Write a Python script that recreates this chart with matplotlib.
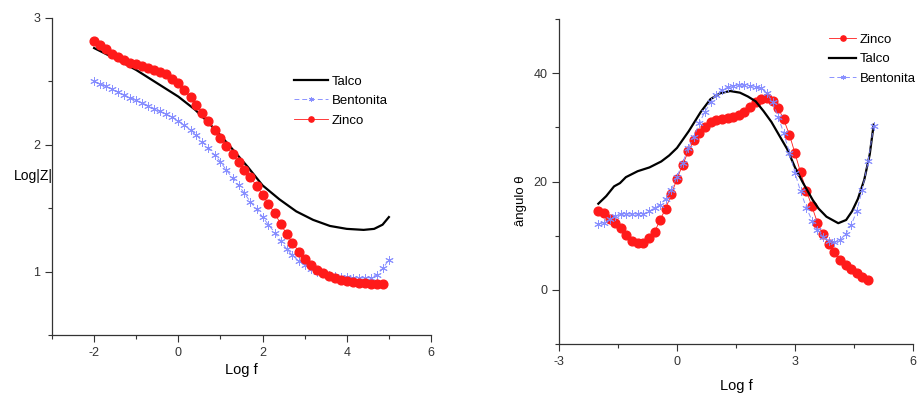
import matplotlib
matplotlib.use("Agg")
import matplotlib.pyplot as plt
from matplotlib.ticker import FixedLocator

plt.rcParams['font.family'] = ['Liberation Sans', 'DejaVu Sans']
plt.rcParams['axes.unicode_minus'] = False

# frequency sweep (Log f), 7 points per decade
log_f = [-2.0, -1.86, -1.71, -1.57, -1.43, -1.29, -1.14, -1.0, -0.86, -0.71,
         -0.57, -0.43, -0.29, -0.14, 0.0, 0.14, 0.29, 0.43, 0.57, 0.71,
         0.86, 1.0, 1.14, 1.29, 1.43, 1.57, 1.71, 1.86, 2.0, 2.14,
         2.29, 2.43, 2.57, 2.71, 2.86, 3.0, 3.14, 3.29, 3.43, 3.57,
         3.71, 3.86, 4.0, 4.14, 4.29, 4.43, 4.57, 4.71, 4.86, 5.0]
log_f_zinco = log_f[:49]

# ---- Left panel: Log|Z| ----
zinco_logz = [2.821, 2.789, 2.755, 2.718, 2.692, 2.666, 2.648, 2.637, 2.618, 2.605,
              2.592, 2.576, 2.558, 2.52, 2.49, 2.43, 2.374, 2.316, 2.25, 2.186,
              2.12, 2.055, 1.99, 1.928, 1.865, 1.804, 1.743, 1.677, 1.605, 1.534,
              1.46, 1.376, 1.297, 1.228, 1.157, 1.1, 1.053, 1.013, 0.987, 0.968,
              0.947, 0.934, 0.926, 0.918, 0.913, 0.908, 0.905, 0.905, 0.905]
bentonita_logz = [2.5, 2.48, 2.46, 2.44, 2.417, 2.395, 2.372, 2.35, 2.33, 2.308,
                  2.285, 2.263, 2.242, 2.218, 2.19, 2.155, 2.118, 2.078, 2.025, 1.972,
                  1.92, 1.867, 1.80, 1.737, 1.68, 1.617, 1.55, 1.493, 1.43, 1.37,
                  1.308, 1.242, 1.18, 1.127, 1.085, 1.05, 1.023, 1.0, 0.987, 0.974,
                  0.966, 0.96, 0.955, 0.952, 0.95, 0.95, 0.953, 0.975, 1.025, 1.095]
talco_logf_left = [-2.0, -1.5, -1.0, -0.5, 0.0, 0.4, 0.7, 1.0, 1.3, 1.65,
                   2.0, 2.4, 2.8, 3.2, 3.6, 4.0, 4.4, 4.65, 4.85, 5.0]
talco_logz = [2.763, 2.68, 2.59, 2.485, 2.38, 2.276, 2.18, 2.075, 1.96, 1.825,
              1.68, 1.57, 1.475, 1.408, 1.36, 1.337, 1.329, 1.337, 1.37, 1.43]

# ---- Right panel: phase angle ----
zinco_theta = [14.6, 14.2, 13.0, 12.3, 11.5, 10.1, 9.1, 8.7, 8.7, 9.5,
               10.7, 12.9, 15.0, 17.7, 20.5, 23.0, 25.6, 27.6, 29.0, 30.1,
               30.9, 31.4, 31.6, 31.7, 31.9, 32.3, 32.9, 33.7, 34.6, 35.3,
               35.5, 34.9, 33.6, 31.5, 28.6, 25.2, 21.7, 18.3, 15.4, 12.4,
               10.3, 8.4, 6.9, 5.5, 4.6, 3.9, 3.1, 2.4, 1.8]
bentonita_theta = [12.2, 12.4, 13.0, 13.7, 14.0, 14.0, 14.0, 14.0, 14.0, 14.5,
                   15.1, 15.7, 16.8, 18.5, 20.9, 23.4, 26.2, 28.3, 30.8, 32.9,
                   34.6, 36.0, 36.9, 37.4, 37.7, 37.8, 37.8, 37.7, 37.5, 37.2,
                   36.3, 34.6, 32.0, 29.0, 25.3, 21.6, 18.2, 15.2, 12.8, 11.0,
                   9.8, 9.0, 8.8, 9.2, 10.3, 12.0, 14.5, 18.5, 23.7, 30.3]
talco_logf_right = [-2.0, -1.8, -1.6, -1.45, -1.3, -1.0, -0.7, -0.4, -0.2, 0.0,
                    0.3, 0.6, 0.85, 1.1, 1.35, 1.6, 1.8, 2.0, 2.2, 2.4,
                    2.6, 2.8, 3.0, 3.2, 3.45, 3.6, 3.8, 4.1, 4.3, 4.45,
                    4.6, 4.76, 4.9, 5.0]
talco_theta = [15.9, 17.3, 19.1, 19.7, 20.8, 21.9, 22.6, 23.7, 24.8, 26.2,
               29.3, 32.8, 35.2, 36.3, 36.7, 36.4, 35.7, 34.8, 33.0, 31.0,
               28.5, 26.0, 22.6, 19.8, 16.6, 15.0, 13.5, 12.3, 12.9, 14.5,
               16.8, 20.3, 25.0, 30.5]

RED = '#ff1a1a'
BLUE = '#7f86ff'
star = (6, 2, 0)

fig = plt.figure(figsize=(9.21, 3.97), dpi=100)
ax1 = fig.add_axes([52/921, 1-335/397, (431-52)/921, (335-18)/397])
ax2 = fig.add_axes([559/921, 1-344/397, (913-559)/921, (344-19)/397])

tick_kw = dict(labelsize=9, labelcolor='#333333', direction='out', width=0.8, colors='#333333')
leg_kw = dict(frameon=False, fontsize=9.5, handletextpad=0.3,
              labelspacing=0.55, borderpad=0, markerscale=0.6)

# Left
ax1.plot(talco_logf_left, talco_logz, color='black', lw=1.6, label='Talco')
ax1.plot(log_f, bentonita_logz, color=BLUE, lw=0.7, ls=(0, (5, 3)), marker=star,
         ms=6, mew=0.7, alpha=0.9, label='Bentonita')
ax1.plot(log_f_zinco, zinco_logz, color=RED, lw=0.6, ls='-', marker='o', ms=6.3,
         mec=RED, mfc=RED, label='Zinco')
ax1.set_xlim(-3, 6)
ax1.set_ylim(0.5, 3)
ax1.xaxis.set_major_locator(FixedLocator([-2, 0, 2, 4, 6]))
ax1.xaxis.set_minor_locator(FixedLocator([-3, -1, 1, 3, 5]))
ax1.yaxis.set_major_locator(FixedLocator([1, 2, 3]))
ax1.yaxis.set_minor_locator(FixedLocator([0.5, 1.5, 2.5]))
ax1.set_xlabel('Log f', fontsize=10.5, labelpad=3)
ax1.set_ylabel('Log|Z|', fontsize=10, rotation=0, labelpad=4)
ax1.yaxis.set_label_coords(-0.05, 0.48)
ax1.legend(loc='upper left', bbox_to_anchor=(0.62, 0.84), handlelength=2.6, **leg_kw)

# Right
ax2.plot(log_f_zinco, zinco_theta, color=RED, lw=0.6, ls='-', marker='o', ms=6.3,
         mec=RED, mfc=RED, label='Zinco')
ax2.plot(talco_logf_right, talco_theta, color='black', lw=1.6, label='Talco')
ax2.plot(log_f, bentonita_theta, color=BLUE, lw=0.7, ls=(0, (5, 3)), marker=star,
         ms=6, mew=0.7, alpha=0.9, label='Bentonita')
ax2.set_xlim(-3, 6)
ax2.set_ylim(-10, 50)
ax2.xaxis.set_major_locator(FixedLocator([-3, 0, 3, 6]))
ax2.xaxis.set_minor_locator(FixedLocator([-1.5, 1.5, 4.5]))
ax2.yaxis.set_major_locator(FixedLocator([0, 20, 40]))
ax2.yaxis.set_minor_locator(FixedLocator([-10, 10, 30, 50]))
ax2.set_xlabel('Log f', fontsize=10.5, labelpad=8)
ax2.set_ylabel('ângulo θ', fontsize=9.5)
ax2.yaxis.set_label_coords(-0.09, 0.44)
ax2.legend(loc='upper left', bbox_to_anchor=(0.745, 0.975), handlelength=2.0, **leg_kw)

for ax in (ax1, ax2):
    for s in ('top', 'right'):
        ax.spines[s].set_visible(False)
    for s in ('left', 'bottom'):
        ax.spines[s].set_color('#333333')
        ax.spines[s].set_linewidth(0.9)
    ax.tick_params(which='major', length=5, **tick_kw)
    ax.tick_params(which='minor', length=3, direction='out', width=0.8, colors='#333333')

fig.savefig('out.png', dpi=100)
